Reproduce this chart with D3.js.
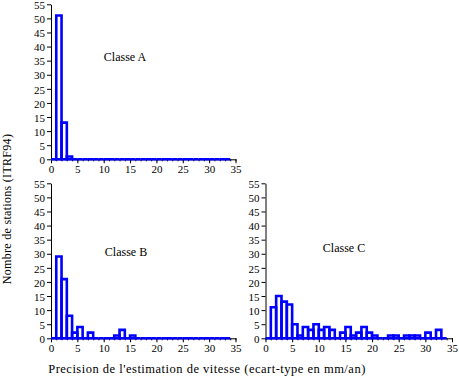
<!DOCTYPE html>
<html><head><meta charset="utf-8">
<script src="https://cdn.jsdelivr.net/npm/d3@7/dist/d3.min.js"></script>
<style>body{margin:0;background:#fff}svg{display:block}</style>
</head><body>
<svg id="c" width="459" height="380"></svg>
<script>
// bins: index i = interval [i, i+1] (mm/an)
const classeA = [0,51,13,1,0,0,0,0,0,0,0,0,0,0,0,0,0,0,0,0,0,0,0,0,0,0,0,0,0,0,0,0,0,0];
const classeB = [0,29,21,8,2,4,0,2,0,0,0,0,1,3,0,1,0,0,0,0,0,0,0,0,0,0,0,0,0,0,0,0,0,0];
const classeC = [0,11,15,13,12,5,1,4,3,5,3,4,3,0,2,4,1,2,4,2,1,0,0,1,1,0,1,1,1,0,2,0,3,0];
const yTicks = [0,5,10,15,20,25,30,35,40,45,50,55];
const xTicks = [0,5,10,15,20,25,30,35];
const panelNames = ["Classe A","Classe B","Classe C"];
const xTitle = "Precision de l'estimation de vitesse (ecart-type en mm/an)";
const yTitle = "Nombre de stations (ITRF94)";

const svg = d3.select("#c");
const font = "'Liberation Serif','Times New Roman',serif";
const blue = "#0000ff";

const panels = [
  {data: classeA, name: panelNames[0], x0: 51, x1: 235.5, yb: 159.3, yt: 4.3, lx: 125, ly: 61},
  {data: classeB, name: panelNames[1], x0: 51, x1: 235.5, yb: 338.3, yt: 183.3, lx: 126, ly: 256},
  {data: classeC, name: panelNames[2], x0: 265.5, x1: 452, yb: 338.3, yt: 183.3, lx: 344, ly: 252}
];

panels.forEach(p => {
  const x = d3.scaleLinear().domain([0,35]).range([p.x0, p.x1]);
  const y = d3.scaleLinear().domain([0,55]).range([p.yb, p.yt]);
  const g = svg.append("g");

  const ya = g.append("g").attr("transform", `translate(${p.x0},0)`)
    .call(d3.axisLeft(y).tickValues(yTicks).tickSize(4).tickPadding(2).tickSizeOuter(0));
  const xm = g.append("g").attr("transform", `translate(0,${p.yb})`)
    .call(d3.axisBottom(x).tickValues(d3.range(0,36)).tickSize(2).tickFormat("").tickSizeOuter(0));
  const xa = g.append("g").attr("transform", `translate(0,${p.yb})`)
    .call(d3.axisBottom(x).tickValues(xTicks).tickSize(4).tickPadding(2).tickSizeOuter(0));
  [ya, xm, xa].forEach(a => {
    a.select(".domain").attr("stroke", "#000").attr("stroke-width", 1);
    a.selectAll(".tick line").attr("stroke", "#000").attr("stroke-width", 1);
    a.selectAll("text").attr("font-family", font).attr("font-size", 11).attr("fill", "#000");
  });
  xm.select(".domain").remove();
  ya.selectAll("text").attr("dy", "0.38em");

  g.append("g").selectAll("path").data(p.data).join("path")
    .attr("d", (d,i) => `M${x(i)},${y(0)}V${y(d)}H${x(i+1)}V${y(0)}Z`)
    .attr("fill", "none")
    .attr("stroke", blue)
    .attr("stroke-width", 2.6);

  g.append("text").attr("x", p.lx).attr("y", p.ly)
    .attr("text-anchor", "middle").attr("font-family", font).attr("font-size", 12)
    .text(p.name);
});

svg.append("text").attr("x", 207).attr("y", 373).attr("text-anchor", "middle")
  .attr("font-family", font).attr("font-size", 12.5).attr("letter-spacing", 0.5).text(xTitle);
svg.append("text").attr("transform", "translate(11,209) rotate(-90)").attr("text-anchor", "middle")
  .attr("font-family", font).attr("font-size", 12).attr("letter-spacing", 0.3).text(yTitle);
</script>
</body></html>
